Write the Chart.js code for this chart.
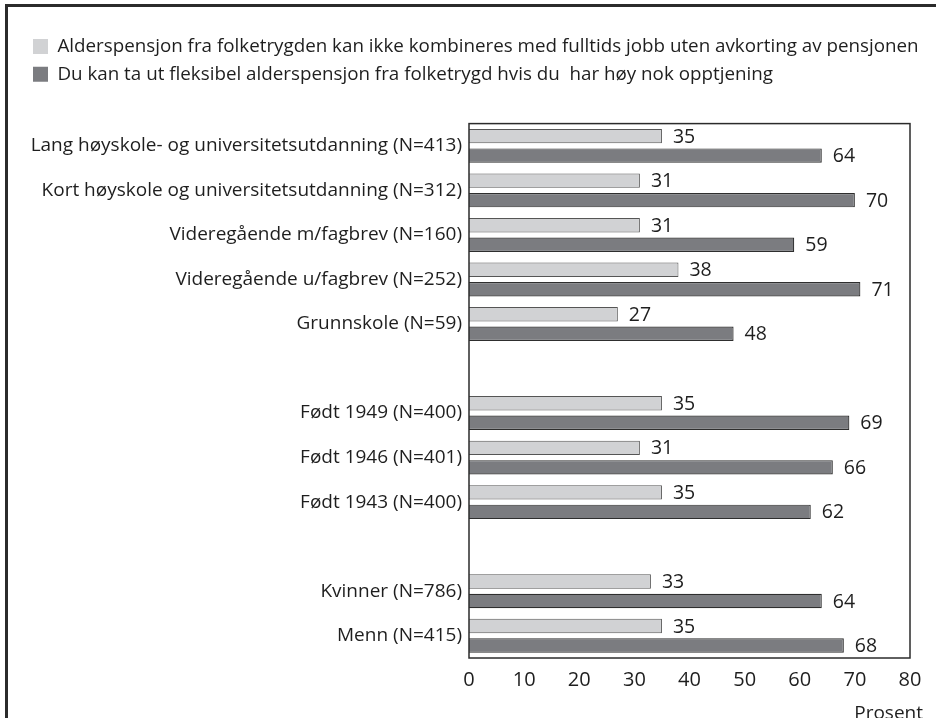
<!DOCTYPE html>
<html>
<head>
<meta charset="utf-8">
<script src="https://cdn.jsdelivr.net/npm/chart.js@4.4.1/dist/chart.umd.min.js"></script>
<style>
    html, body { margin: 0; padding: 0; background: #fff; overflow: hidden; }
    #wrap { position: absolute; left: 0; top: 0; width: 936px; height: 740px; }
    #frame { position: absolute; left: 5px; top: 4px; width: 960px; height: 800px;
             border-left: 3px solid #2b2b2b; border-top: 3px solid #2b2b2b; pointer-events: none; }
</style>
</head>
<body>
<div id="wrap"><canvas id="chart"></canvas></div>
<div id="frame"></div>
<script>
// ===== DATA =====
const categories = [
    'Lang høyskole- og universitetsutdanning (N=413)',
    'Kort høyskole og universitetsutdanning (N=312)',
    'Videregående m/fagbrev (N=160)',
    'Videregående u/fagbrev (N=252)',
    'Grunnskole (N=59)',
    '',
    'Født 1949 (N=400)',
    'Født 1946 (N=401)',
    'Født 1943 (N=400)',
    '',
    'Kvinner (N=786)',
    'Menn (N=415)'
];
const seriesNames = [
    'Alderspensjon fra folketrygden kan ikke kombineres med fulltids jobb uten avkorting av pensjonen',
    'Du kan ta ut fleksibel alderspensjon fra folketrygd hvis du  har høy nok opptjening'
];
const kanIkkeKombineres = [35, 31, 31, 38, 27, null, 35, 31, 35, null, 33, 35];
const fleksibel = [64, 70, 59, 71, 48, null, 69, 66, 62, null, 64, 68];
const xTicks = [0, 10, 20, 30, 40, 50, 60, 70, 80];
const axisTitle = 'Prosent';

const FONT = '"Open Sans", "Noto Sans", sans-serif';
const TEXT = '#1e1e1e';

// ===== PLUGINS =====
// extra space below the legend
const legendGap = {
    id: 'legendGap',
    beforeInit(chart) {
        const fit = chart.legend.fit;
        chart.legend.fit = function () {
            fit.call(this);
            this.height += 30;
        };
    }
};

// box around plot area + value labels + axis title
const decorPlugin = {
    id: 'decor',
    afterDatasetsDraw(chart) {
        const ctx = chart.ctx;
        ctx.save();
        ctx.font = '19.5px ' + FONT;
        ctx.fillStyle = TEXT;
        ctx.textAlign = 'left';
        ctx.textBaseline = 'middle';
        chart.data.datasets.forEach((ds, i) => {
            chart.getDatasetMeta(i).data.forEach((bar, j) => {
                const v = ds.data[j];
                if (v === null) return;
                ctx.fillText(String(v), bar.x + 11, bar.y + 1);
            });
        });
        ctx.restore();
    },
    afterDraw(chart) {
        const ctx = chart.ctx;
        const a = chart.chartArea;
        ctx.save();
        ctx.strokeStyle = '#2b2b2b';
        ctx.lineWidth = 1.5;
        ctx.strokeRect(a.left, a.top, a.right - a.left, a.bottom - a.top);
        ctx.font = '19px ' + FONT;
        ctx.fillStyle = TEXT;
        ctx.textAlign = 'right';
        ctx.textBaseline = 'middle';
        ctx.fillText(axisTitle, a.right + 13, 714);
        ctx.restore();
    }
};

// ===== CHART =====
new Chart(document.getElementById('chart'), {
    type: 'bar',
    data: {
        labels: categories,
        datasets: [
            {
                label: seriesNames[0],
                data: kanIkkeKombineres,
                backgroundColor: '#d1d2d4',
                borderColor: '#555',
                borderWidth: 1,
                barPercentage: 0.74,
                categoryPercentage: 0.875
            },
            {
                label: seriesNames[1],
                data: fleksibel,
                backgroundColor: '#7b7c80',
                borderColor: '#2e2e2e',
                borderWidth: 1.2,
                barPercentage: 0.74,
                categoryPercentage: 0.875
            }
        ]
    },
    options: {
        indexAxis: 'y',
        responsive: true,
        maintainAspectRatio: false,
        animation: false,
        layout: { padding: { left: 24, right: 0, top: 28, bottom: 0 } },
        plugins: {
            legend: {
                position: 'top',
                align: 'start',
                labels: {
                    boxWidth: 15,
                    boxHeight: 15,
                    padding: 9,
                    color: TEXT,
                    font: { family: FONT, size: 18.8 },
                    generateLabels(chart) {
                        return Chart.defaults.plugins.legend.labels.generateLabels(chart)
                            .map(l => ({ ...l, lineWidth: 0, strokeStyle: 'rgba(0,0,0,0)' }));
                    }
                }
            },
            tooltip: { enabled: false }
        },
        scales: {
            x: {
                min: 0,
                max: 80,
                afterBuildTicks(scale) {
                    scale.ticks = xTicks.map(v => ({ value: v }));
                },
                afterFit(scale) {
                    scale.height = 82;
                    scale.paddingRight = 26;
                },
                grid: { display: false, drawTicks: false },
                border: { display: false },
                ticks: { color: TEXT, padding: 10, font: { family: FONT, size: 20 } }
            },
            y: {
                afterFit(scale) { scale.width = 445; },
                grid: { display: false, drawTicks: false },
                border: { display: false },
                ticks: { color: TEXT, padding: 7, autoSkip: false, font: { family: FONT, size: 19 } }
            }
        }
    },
    plugins: [legendGap, decorPlugin]
});
</script>
</body>
</html>
